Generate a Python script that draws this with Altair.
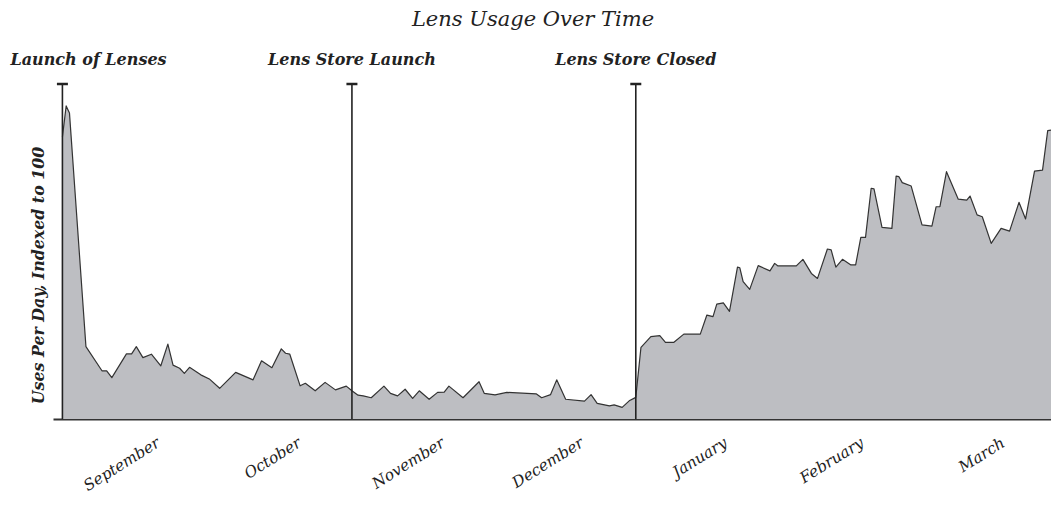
import altair as alt
import pandas as pd

# Day offset from the launch of Lenses, and daily uses indexed to 100
days = [0, 0.8, 1.5, 5.0, 8.4, 9.4, 10.5, 13.6, 14.7, 15.7, 17.1, 18.9, 20.9, 22.4,
        23.5, 24.9, 25.9, 27.0, 29.4, 31.2, 33.4, 36.8, 40.5, 42.3, 44.5, 46.5, 47.4,
        48.3, 50.5, 51.6, 53.7, 55.8, 58.0, 60.3, 61.5, 62.8, 63.9, 65.6, 68.3, 69.7,
        71.2, 72.8, 74.4, 75.8, 77.9, 79.7, 81.1, 82.1, 85.1, 88.5, 89.6, 91.9, 94.4,
        100.7, 101.8, 103.7, 105.0, 106.9, 110.9, 112.3, 113.6, 116.2, 117.2, 118.9,
        120.4, 121.8, 122.9, 125.0, 126.9, 128.1, 129.9, 132.0, 135.5, 136.9, 138.2,
        139.0, 140.4, 141.7, 143.4, 143.9, 144.6, 146.0, 147.8, 150.3, 151.3, 152.0,
        155.9, 157.3, 159.1, 160.4, 162.5, 163.3, 164.3, 165.7, 167.5, 168.5, 169.6,
        170.6, 171.8, 172.4, 174.1, 176.2, 177.1, 177.7, 178.4, 180.3, 182.6, 184.7,
        185.6, 186.4, 187.8, 190.3, 192.1, 192.8, 194.3, 195.4, 197.3, 199.4, 201.2,
        203.2, 204.6, 206.5, 208.2, 209.3, 210.0]
uses = [90.1, 100.0, 97.7, 23.1, 15.4, 15.4, 13.2, 20.8, 20.8, 23.1, 19.6, 20.7, 17.0, 23.9,
        17.2, 16.2, 14.6, 16.5, 14.1, 12.8, 9.8, 14.9, 12.5, 18.6, 16.4, 22.4, 21.0,
        20.7, 10.6, 11.4, 9.0, 11.7, 9.3, 10.5, 9.0, 7.6, 7.4, 6.8, 10.5, 8.2,
        7.4, 9.5, 6.6, 9.0, 6.3, 8.5, 8.6, 10.5, 6.8, 11.9, 8.2, 7.7, 8.5,
        8.0, 6.8, 7.8, 12.5, 6.3, 5.7, 7.8, 5.0, 4.2, 4.5, 3.7,
        5.8, 6.9, 22.9, 26.3, 26.6, 24.5, 24.5, 27.1, 27.1, 33.2, 32.7,
        36.7, 37.1, 34.4, 48.5, 48.3, 43.9, 41.4, 49.0, 47.3, 49.7, 48.9,
        48.9, 51.0, 46.5, 44.9, 54.3, 54.0, 48.5, 51.0, 49.2, 49.2, 58.0,
        58.0, 73.7, 73.5, 61.2, 60.9, 77.6, 77.4, 75.5, 74.4, 62.0, 61.6,
        67.8, 67.8, 79.0, 70.2, 69.9, 71.2, 65.2, 64.6, 56.1, 60.9, 60.0,
        69.2, 63.9, 79.2, 79.5, 92.1, 92.3]

month_names = ["September", "October", "November", "December", "January", "February", "March"]
month_days = [19.5, 49.5, 80, 109.5, 140, 169, 199]

event_names = ["Launch of Lenses", "Lens Store Launch", "Lens Store Closed"]
event_days = [0, 61.5, 121.8]

Y_TOP = 107
FONT = "DejaVu Serif"
INK = "#222222"

df = pd.DataFrame({"day": days, "uses": uses})
events = pd.DataFrame({"day": event_days, "name": event_names})

label_expr = (
    "[" + ",".join(f"'{m}'" for m in month_names) + "]"
    + "[indexof([" + ",".join(str(d) for d in month_days) + "], datum.value)]"
)

xscale = alt.Scale(domain=[-2, 210], nice=False, zero=False)
yscale = alt.Scale(domain=[0, Y_TOP], nice=False)

x_axis = alt.Axis(
    values=month_days, labelExpr=label_expr, labelAngle=-32, labelAlign="right",
    labelBaseline="top", ticks=False, grid=False, domain=True, domainColor="#333333",
    domainWidth=2, title=None, labelFont=FONT, labelFontStyle="italic",
    labelFontSize=15.5, labelColor=INK, labelPadding=16, labelOverlap=False,
)
y_axis = alt.Axis(
    title="Uses Per Day, Indexed to 100", labels=False, ticks=False, domain=False,
    grid=False, titleAngle=-90, titleX=-15, titleY=191, titleAlign="center",
    titleBaseline="middle", titleFont=FONT, titleFontStyle="italic",
    titleFontWeight="bold", titleFontSize=15.8, titleColor=INK,
)

X = alt.X("day:Q", scale=xscale, axis=x_axis)

area = alt.Chart(df).mark_area(interpolate="linear", color="#bdbec2").encode(
    x=X,
    y=alt.Y("uses:Q", scale=yscale, axis=y_axis),
)
line = alt.Chart(df).mark_line(interpolate="linear", color="#333333", strokeWidth=1.2,
                               strokeJoin="round").encode(
    x=X,
    y=alt.Y("uses:Q", scale=yscale, axis=y_axis),
)
rules = alt.Chart(events).mark_rule(color=INK, strokeWidth=1.6).encode(
    x=X,
    y=alt.datum(0, scale=yscale, axis=y_axis),
    y2=alt.datum(Y_TOP),
)
caps = alt.Chart(events).mark_tick(orient="horizontal", size=11, thickness=2.5, color=INK,
                                   opacity=1).encode(
    x=X,
    y=alt.datum(Y_TOP, scale=yscale, axis=y_axis),
)
first_label = alt.Chart(events).transform_filter(alt.datum.day == 0).mark_text(
    align="left", baseline="alphabetic", dx=-52, dy=-19, font=FONT, fontStyle="italic",
    fontWeight="bold", fontSize=16, color=INK,
).encode(
    x=X,
    y=alt.datum(Y_TOP, scale=yscale, axis=y_axis),
    text="name:N",
)
other_labels = alt.Chart(events).transform_filter(alt.datum.day > 0).mark_text(
    align="center", baseline="alphabetic", dy=-19, font=FONT, fontStyle="italic",
    fontWeight="bold", fontSize=16, color=INK,
).encode(
    x=X,
    y=alt.datum(Y_TOP, scale=yscale, axis=y_axis),
    text="name:N",
)

chart = alt.layer(area, line, rules, caps, first_label, other_labels).properties(
    width=998, height=335,
    title=alt.TitleParams("Lens Usage Over Time", font=FONT, fontStyle="italic",
                          fontWeight="normal", fontSize=21, color=INK, anchor="middle",
                          frame="group", dx=-19, offset=22),
    autosize=alt.AutoSizeParams(type="none"),
    padding={"left": 45, "top": 76, "right": 0, "bottom": 79},
).configure_view(stroke=None)

chart.save("out.html", embed_options={"renderer": "svg", "actions": False})
